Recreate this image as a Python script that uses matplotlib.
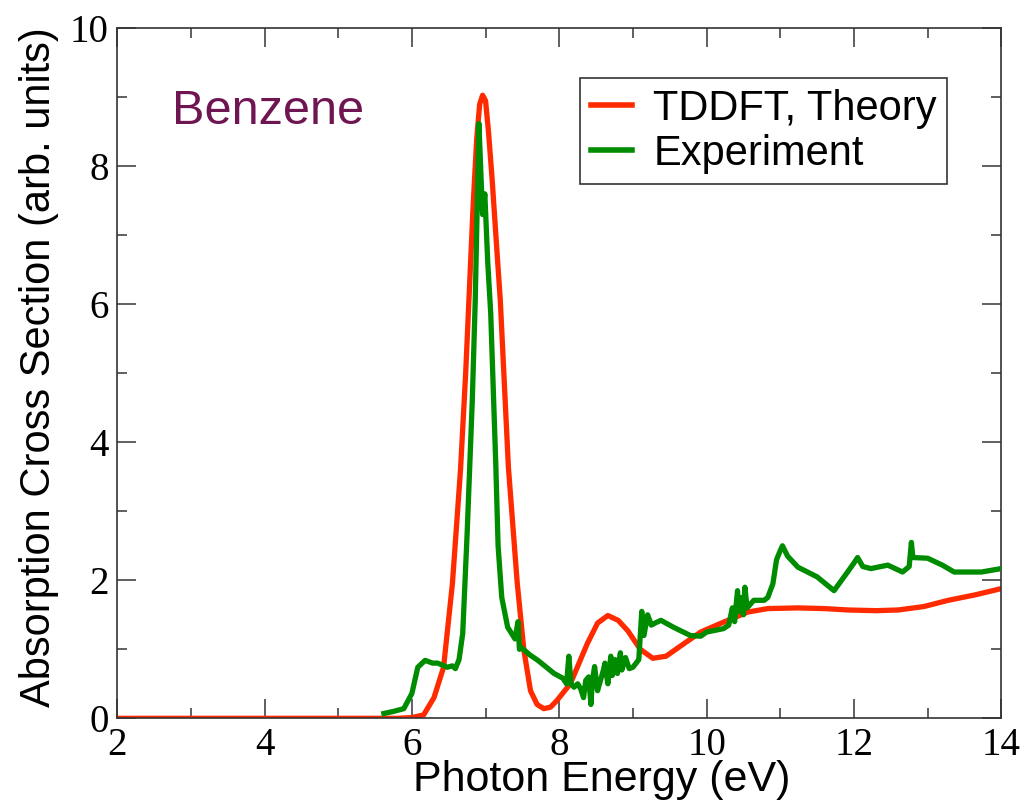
import matplotlib
matplotlib.use("Agg")
import matplotlib.pyplot as plt
from matplotlib.ticker import MultipleLocator

# ---- TDDFT theory curve ----
theory_x = [2.0, 4.0, 5.8, 6.0, 6.16, 6.3, 6.43, 6.55, 6.66, 6.73, 6.78, 6.83, 6.88,
            6.92, 6.96, 7.0, 7.04, 7.09, 7.14, 7.2, 7.31, 7.43, 7.52, 7.61, 7.7,
            7.79, 7.88, 7.97, 8.15, 8.38, 8.52, 8.66, 8.8, 8.93, 9.1, 9.27, 9.45,
            9.65, 9.92, 10.2, 10.56, 10.83, 11.24, 11.6, 11.92, 12.3, 12.6, 12.95,
            13.28, 13.65, 14.0]
theory_y = [0.0, 0.0, 0.0, 0.01, 0.05, 0.3, 0.74, 1.95, 3.6, 5.0, 6.2, 7.4, 8.4,
            8.9, 9.03, 8.95, 8.5, 7.8, 7.0, 6.06, 3.64, 1.96, 0.99, 0.4, 0.2,
            0.14, 0.16, 0.26, 0.5, 1.08, 1.38, 1.49, 1.42, 1.27, 1.0, 0.87, 0.9,
            1.05, 1.25, 1.38, 1.54, 1.59, 1.6, 1.59, 1.57, 1.56, 1.57, 1.62,
            1.71, 1.79, 1.88]

# ---- experiment curve ----
exp_x = [5.62, 5.75, 5.89, 6.0, 6.08, 6.18, 6.28, 6.35, 6.48, 6.55, 6.59, 6.64, 6.69,
         6.75, 6.82, 6.86, 6.89, 6.91, 6.94, 6.96, 6.99, 7.03, 7.07, 7.11, 7.14,
         7.17, 7.22, 7.3, 7.4, 7.44, 7.46, 7.48, 7.6, 7.71, 7.93, 8.05, 8.1,
         8.13, 8.16, 8.2, 8.25, 8.29, 8.33, 8.36, 8.4, 8.43, 8.45, 8.48, 8.52,
         8.56, 8.6, 8.62, 8.66, 8.7, 8.72, 8.76, 8.79, 8.83, 8.85, 8.9, 8.95,
         9.0, 9.08, 9.12, 9.15, 9.2, 9.25, 9.3, 9.38, 9.55, 9.78, 9.92, 10.0,
         10.23, 10.3, 10.35, 10.38, 10.42, 10.44, 10.46, 10.5, 10.52, 10.55,
         10.64, 10.78, 10.83, 10.9, 10.95, 11.0, 11.03, 11.1, 11.24, 11.5,
         11.73, 11.9, 12.0, 12.05, 12.12, 12.23, 12.46, 12.66, 12.75, 12.78,
         12.8, 13.0, 13.2, 13.36, 13.73, 14.0]
exp_y = [0.07, 0.1, 0.14, 0.36, 0.74, 0.84, 0.8, 0.8, 0.74, 0.76, 0.72, 0.85, 1.23,
         2.68, 4.61, 6.06, 7.6, 8.62, 7.8, 7.3, 7.6, 6.6, 5.87, 4.6, 3.64,
         2.5, 1.75, 1.32, 1.15, 1.4, 1.0, 1.03, 0.92, 0.84, 0.65, 0.58, 0.5,
         0.9, 0.5, 0.45, 0.5, 0.43, 0.3, 0.55, 0.6, 0.2, 0.55, 0.75, 0.4,
         0.55, 0.7, 0.8, 0.5, 0.9, 0.62, 0.85, 0.65, 0.95, 0.7, 0.88, 0.72,
         0.74, 0.85, 1.55, 1.2, 1.5, 1.35, 1.38, 1.42, 1.32, 1.2, 1.19, 1.25,
         1.3, 1.35, 1.6, 1.4, 1.85, 1.55, 1.75, 1.5, 1.9, 1.6,
         1.71, 1.71, 1.75, 1.95, 2.3, 2.43, 2.5, 2.35, 2.19, 2.05,
         1.85, 2.1, 2.25, 2.33, 2.2, 2.17, 2.22, 2.12, 2.2, 2.55,
         2.33, 2.32, 2.22, 2.12, 2.12, 2.17]

RED = "#ff2a00"
GREEN = "#008c00"

fig = plt.figure(figsize=(10.28, 8.08), dpi=100)
ax = fig.add_axes([0.114, 0.111, 0.860, 0.854])

ax.plot(theory_x, theory_y, color=RED, lw=3.8, label="TDDFT, Theory", zorder=2,
        solid_joinstyle="round")
ax.plot(exp_x, exp_y, color=GREEN, lw=3.8, label="Experiment", zorder=3,
        solid_joinstyle="round")

ax.set_xlim(2, 14)
ax.set_ylim(0, 10)
ax.xaxis.set_major_locator(MultipleLocator(2))
ax.xaxis.set_minor_locator(MultipleLocator(1))
ax.yaxis.set_major_locator(MultipleLocator(2))
ax.yaxis.set_minor_locator(MultipleLocator(1))
ax.tick_params(which="both", direction="in", top=True, right=True, width=1.2,
               colors="#444444", labelcolor="black")
ax.tick_params(which="major", length=14, labelsize=28, pad=6)
ax.tick_params(which="minor", length=7)
for lab in ax.get_xticklabels() + ax.get_yticklabels():
    lab.set_fontfamily("Liberation Serif")
for s in ax.spines.values():
    s.set_linewidth(1.2)
    s.set_color("#333333")

ax.set_xlabel("Photon Energy (eV)", fontsize=31, family="Liberation Sans")
ax.set_ylabel("Absorption Cross Section (arb. units)", fontsize=30,
              family="Liberation Sans")
ax.xaxis.set_label_coords(0.548, -0.061)
ax.yaxis.set_label_coords(-0.066, 0.509)

ax.text(2.74, 8.8, "Benzene", fontsize=35, color="#6e1552", family="Liberation Sans",
        va="center")

leg = ax.legend(loc="upper right", bbox_to_anchor=(0.939, 0.9275), borderaxespad=0,
                frameon=True, fancybox=False, handlelength=1.0, handletextpad=0.5,
                borderpad=0.25, labelspacing=0.12,
                prop={"family": "Liberation Sans", "size": 30})
leg.get_frame().set_edgecolor("black")
leg.get_frame().set_linewidth(1.2)
for h in leg.get_lines():
    h.set_linewidth(4)

fig.savefig("out.png", dpi=100)
